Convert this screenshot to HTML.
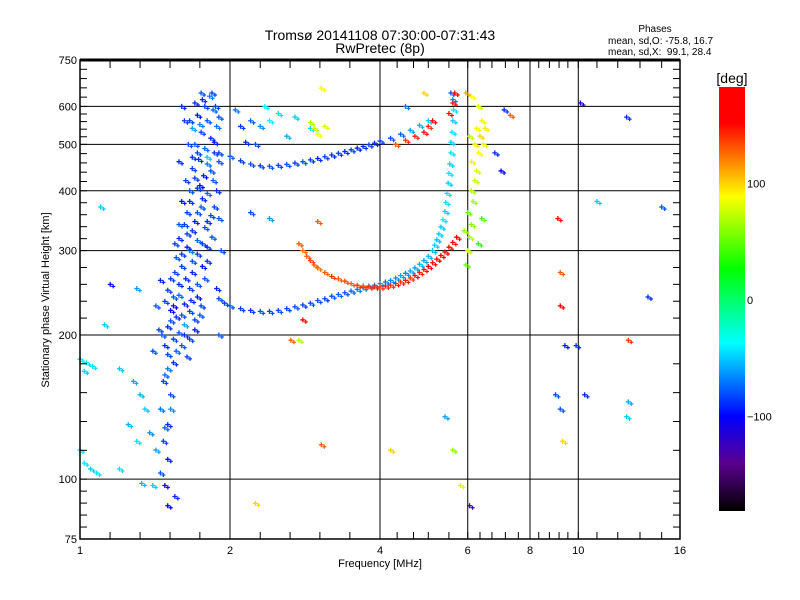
<!DOCTYPE html>
<html><head><meta charset="utf-8"><style>
body{margin:0;background:#fff;}
svg{display:block;font-family:"Liberation Sans",sans-serif;}
</style></head><body>
<svg id="chart" width="800" height="600" viewBox="0 0 800 600">
<rect width="800" height="600" fill="#fff"/>
<text x="380" y="40" font-size="14" text-anchor="middle">Tromsø 20141108 07:30:00-07:31:43</text>
<text x="380" y="53" font-size="14" text-anchor="middle">RwPretec (8p)</text>
<text x="655" y="32" font-size="10" text-anchor="middle">Phases</text>
<text x="608" y="44" font-size="10">mean, sd,O: -75.8, 16.7</text>
<text x="608" y="55" font-size="10" xml:space="preserve">mean, sd,X:  99.1, 28.4</text>
<g id="grid"></g>
<g id="points"></g>
<g id="axes"></g>
<text x="380" y="567" font-size="11" text-anchor="middle">Frequency [MHz]</text>
<text transform="translate(49,300) rotate(-90)" font-size="11" text-anchor="middle">Stationary phase Virtual Height [km]</text>
<defs><linearGradient id="cb" x1="0" y1="1" x2="0" y2="0"></linearGradient></defs>
<rect x="719" y="87" width="26" height="424" fill="url(#cb)"/>
<text x="732" y="83" font-size="14" text-anchor="middle">[deg]</text>
<g id="cbticks"></g>
</svg>
<script>
const xMajor=[1,2,4,6,8,10,16];
const xMinor=[1.149,1.32,1.516,1.74,2.3,2.64,3.03,3.48,4.33,4.67,5.0,5.5,6.35,6.71,7.14,7.58,8.33,8.75,9.15,9.53,10.9,12,13.3,14.7];
const xGrid=[2,4,6,8,10];
const yMajor=[75,100,200,300,400,500,600,750];
const yGrid=[100,200,300,400,500,600];
const cbLabels=[100,0,-100];
const colStops=[-181,-140,-100,-37,27,89,152,183];
const colHex=["#000000","#5a0090","#0000ff","#00ffff","#00ff00","#ffff00","#ff0000","#ff0000"];

const colPts=[[1.75,640,-80],[1.82,630,-70],[1.7,610,-90],[1.78,600,-85],[1.85,590,-75],[1.72,575,-95],[1.8,560,-80],[1.88,545,-70],[1.75,530,-85],[1.83,515,-90],[1.7,500,-80],[1.78,490,-75],[1.86,480,-85],[1.73,465,-90],[1.8,455,-70],[1.68,445,-85],[1.77,430,-95],[1.85,420,-80],[1.72,405,-85],[1.8,395,-75],[1.66,380,-90],[1.75,370,-80],[1.83,355,-85],[1.7,345,-95],[1.78,335,-80],[1.64,325,-85],[1.72,315,-75],[1.8,305,-90],[1.6,295,-85],[1.68,285,-80],[1.76,278,-95],[1.55,270,-85],[1.63,262,-90],[1.72,255,-80],[1.5,248,-85],[1.58,242,-75],[1.67,236,-90],[1.75,230,-85],[1.52,225,-95],[1.6,220,-80],[1.7,215,-85],[1.5,208,-90],[1.58,202,-80],[1.66,196,-85],[1.48,190,-90],[1.56,185,-75],[1.64,180,-85],[1.5,170,-70],[1.47,160,-85],[1.52,150,-80],[1.45,140,-70],[1.5,130,-90],[1.47,120,-85],[1.42,115,-60],[1.5,110,-95],[1.45,103,-80],[1.48,97,-110],[1.5,88,-100],[1.55,92,-90],[1.9,200,-80],[1.88,250,-90],[1.92,300,-85],[1.9,350,-80],[1.87,600,-85],[1.6,600,-90],[1.62,560,-85],[1.65,500,-80],[1.58,460,-90],[1.63,420,-85],[1.6,380,-95],[1.58,340,-80],[1.55,310,-85],[1.45,260,-90],[1.42,230,-80],[1.44,205,-85],[1.4,185,-80],[1.68,540,-60],[1.8,470,-50],[1.74,410,-100],[1.66,300,-70],[1.54,230,-110],[1.62,210,-60],
[1.84,640,-85],[1.76,620,-90],[1.9,570,-80],[1.66,560,-85],[1.74,550,-70],[1.86,505,-95],[1.72,480,-85],[1.9,460,-80],[1.68,470,-90],[1.83,440,-80],[1.7,425,-85],[1.88,400,-90],[1.66,400,-80],[1.76,385,-90],[1.86,370,-85],[1.64,360,-85],[1.72,360,-80],[1.8,345,-90],[1.62,340,-85],[1.68,330,-90],[1.84,320,-80],[1.58,318,-90],[1.76,310,-85],[1.64,305,-95],[1.72,295,-85],[1.56,290,-80],[1.8,285,-90],[1.6,278,-85],[1.68,270,-90],[1.52,262,-85],[1.78,262,-80],[1.58,255,-90],[1.66,250,-85],[1.54,240,-80],[1.62,232,-90],[1.72,240,-95],[1.48,235,-85],[1.56,218,-90],[1.66,224,-85],[1.74,220,-80],[1.52,214,-80],[1.62,200,-90],[1.54,196,-85],[1.7,205,-95],[1.46,200,-80],[1.6,190,-80],[1.5,182,-85],[1.54,175,-90],[1.48,165,-75],[1.52,140,-65],[1.48,128,-75]];
const leftPts=[[1.0,178,-45],[1.03,175,-45],[1.06,172,-45],[1.02,168,-50],[1.0,115,-45],[1.02,108,-45],[1.05,105,-50],[1.08,103,-45],[1.12,210,-50],[1.2,170,-50],[1.25,130,-55],[1.3,120,-45],[1.35,140,-50],[1.28,160,-60],[1.32,150,-55],[1.38,125,-65],[1.2,105,-45],[1.33,98,-55],[1.4,97,-50],[1.1,370,-50],[1.3,250,-60],[1.15,255,-95]];
const oLower=[[1.9,238,-85],[1.95,233,-85],[2.0,230,-80],[2.1,227,-85],[2.2,225,-85],[2.3,224,-80],[2.4,224,-85],[2.5,225,-80],[2.6,227,-85],[2.7,229,-80],[2.8,231,-85],[2.9,233,-80],[3.0,236,-80],[3.1,238,-85],[3.2,241,-80],[3.3,243,-75],[3.4,245,-80],[3.5,247,-75],[3.6,249,-70],[3.7,251,-75],[3.8,253,-70],[3.9,254,-70],[4.0,256,-65],[4.1,258,-70],[4.2,260,-65],[4.3,263,-65],[4.4,266,-60],[4.5,269,-65],[4.6,272,-60],[4.7,276,-60],[4.8,281,-55],[4.9,286,-60],[5.0,292,-55],[5.1,300,-55],[5.15,308,-50],[5.2,316,-55],[5.25,325,-50],[5.3,336,-50],[5.35,348,-45],[5.4,362,-50],[5.42,378,-45],[5.45,395,-45],[5.48,415,-50],[5.5,435,-45],[5.52,455,-50],[5.55,480,-45],[5.55,505,-50],[5.58,530,-45],[5.6,560,-50],[5.62,590,-45],[5.6,620,-70],[5.55,640,-80]];
const oUpper=[[1.9,480,-85],[2.0,472,-80],[2.1,462,-85],[2.2,455,-80],[2.3,451,-85],[2.4,450,-80],[2.5,452,-85],[2.6,454,-80],[2.7,457,-85],[2.8,460,-80],[2.9,464,-85],[3.0,467,-90],[3.1,471,-85],[3.2,475,-90],[3.3,479,-85],[3.4,483,-90],[3.5,487,-85],[3.6,491,-95],[3.7,495,-90],[3.8,499,-85],[3.9,503,-90],[4.0,508,-85],[4.2,515,-80],[4.4,525,-75],[4.6,535,-60],[4.8,548,-55],[5.0,560,-50],[2.05,590,-70],[2.2,560,-75],[2.3,545,-65],[2.4,560,-40],[2.5,580,-45],[2.7,570,-50],[2.6,520,-55],[2.25,500,-80],[2.9,540,-45],[2.1,545,-85],[2.35,600,-40],[2.15,505,-90]];
const xLower=[[2.75,310,130],[2.8,300,125],[2.85,292,130],[2.9,286,135],[2.95,280,130],[3.0,276,125],[3.1,270,130],[3.2,265,140],[3.3,262,130],[3.4,259,135],[3.5,256,130],[3.6,254,140],[3.7,253,135],[3.8,252,140],[3.9,252,145],[4.0,252,140],[4.1,253,145],[4.2,254,140],[4.3,256,145],[4.4,258,140],[4.5,260,145],[4.6,263,140],[4.7,266,150],[4.8,270,145],[4.9,274,150],[5.0,278,155],[5.1,283,150],[5.2,288,160],[5.3,293,165],[5.4,298,160],[5.5,305,165],[5.6,312,170],[5.7,320,160]];
const xUpper=[[4.3,500,130],[4.5,510,140],[4.7,520,145],[4.9,530,150],[5.0,545,140],[5.1,560,150],[5.6,610,160],[5.65,640,170],[5.5,580,150]];
const yellowCol=[[6.0,300,75],[6.05,320,70],[6.1,340,60],[6.0,360,55],[6.15,380,65],[6.1,400,70],[6.2,420,75],[6.25,440,80],[6.1,460,85],[6.3,480,90],[6.2,500,95],[6.35,520,100],[6.25,540,90],[6.4,560,85],[6.3,600,80],[6.1,630,90],[5.95,640,110],[6.45,500,85],[6.5,540,95],[6.05,520,75],[5.9,330,60],[6.4,350,45],[6.3,310,35],[5.95,280,50],[2.9,555,70],[2.95,540,75],[3.0,525,85],[3.1,545,80],[3.05,655,90]];
const sparse=[[7.1,590,-90],[7.3,575,130],[10.1,610,-110],[12.5,570,-90],[9.1,350,160],[9.2,270,130],[9.2,230,160],[9.4,190,-95],[9.9,190,-90],[9,150,-80],[9.2,140,-80],[9.3,120,100],[10.9,380,-50],[13.8,240,-90],[14.7,370,-80],[12.6,195,140],[10.3,150,-90],[12.6,145,-60],[12.5,135,-50],[5.4,135,-60],[5.6,115,60],[5.8,97,80],[6.05,88,-120],[3.05,118,130],[2.25,89,100],[2.65,195,130],[2.75,195,70],[2.8,215,150],[7.0,440,-100],[6.8,480,-90],[2.4,350,-60],[2.2,360,-80],[3.0,345,130],[4.2,115,100],[4.5,600,-70],[4.9,640,100]];

const NS="http://www.w3.org/2000/svg";
const X0=80,X1=680,Y0=539,Y1=60;
function xs(f){return X0+(X1-X0)*Math.log2(f)/4;}
function ys(h){return Y0-(Y0-Y1)*Math.log10(h/75)/1;}
function cbY(v){return 300-v*1.165;}
function hex2rgb(h){return [1,3,5].map(i=>parseInt(h.substr(i,2),16));}
function color(v){
  if(v<=colStops[0])return colHex[0];
  for(let i=1;i<colStops.length;i++){
    if(v<=colStops[i]){
      const t=(v-colStops[i-1])/(colStops[i]-colStops[i-1]);
      const a=hex2rgb(colHex[i-1]),b=hex2rgb(colHex[i]);
      return "rgb("+a.map((c,k)=>Math.round(c+(b[k]-c)*t)).join(",")+")";
    }
  }
  return colHex[colHex.length-1];
}
function mk(tag,attrs,parent){const e=document.createElementNS(NS,tag);for(const k in attrs)e.setAttribute(k,attrs[k]);parent.appendChild(e);return e;}
const grid=document.getElementById('grid'),axes=document.getElementById('axes'),pts=document.getElementById('points');
xGrid.forEach(f=>{const l=mk('line',{x1:xs(f),x2:xs(f),y1:Y1,y2:Y0,stroke:'#000','stroke-width':1},grid);

});
yGrid.forEach(h=>{const l=mk('line',{x1:X0,x2:X1,y1:ys(h),y2:ys(h),stroke:'#000','stroke-width':1},grid);

});
const groups=[colPts,leftPts,oLower,oUpper,xLower,xUpper,yellowCol,sparse];
groups.forEach(g=>g.forEach(p=>{
  const x=xs(p[0]),y=ys(p[1]),c=color(p[2]);
  const e=mk('path',{d:`M${x-2.5} ${y}h5M${x} ${y-2.5}v5`,stroke:c,'stroke-width':1.3},pts);
  
  
  const e2=mk('path',{d:`M${x+1} ${y+2}h4M${x+3} ${y}v4`,stroke:c,'stroke-width':1.2},pts);
  
  
}));
const frame=mk('rect',{x:X0,y:Y1,width:X1-X0,height:Y0-Y1,fill:'none',stroke:'#000','stroke-width':1.5},axes);


mk('line',{x1:X0,x2:X1,y1:Y1,y2:Y1,stroke:'#000','stroke-width':3},axes);
xMajor.concat(xMinor).forEach(f=>{const x=xs(f);
  mk('line',{x1:x,x2:x,y1:Y0,y2:Y0-7,stroke:'#000'},axes);
  mk('line',{x1:x,x2:x,y1:Y1,y2:Y1+8,stroke:'#000'},axes);});
xMajor.forEach(f=>{const t=mk('text',{x:xs(f),y:554,'font-size':11,'text-anchor':'middle'},axes);t.textContent=f;

});
for(let i=0;i<yMajor.length-1;i++){
  const a=Math.log10(yMajor[i]),b=Math.log10(yMajor[i+1]);
  for(let k=1;k<5;k++){const y=ys(Math.pow(10,a+(b-a)*k/5));
    mk('line',{x1:X0,x2:X0+7,y1:y,y2:y,stroke:'#000'},axes);
    mk('line',{x1:X1,x2:X1-7,y1:y,y2:y,stroke:'#000'},axes);}
}
yMajor.forEach(h=>{const y=ys(h);
  mk('line',{x1:X0,x2:X0+7,y1:y,y2:y,stroke:'#000'},axes);
  const t=mk('text',{x:77,y:y+4,'font-size':11,'text-anchor':'end'},axes);t.textContent=h;
  
  });
const grad=document.getElementById('cb');
colStops.forEach((v,i)=>{mk('stop',{offset:((v+181)/364).toFixed(3),'stop-color':colHex[i]},grad);});
const cbt=document.getElementById('cbticks');
cbLabels.forEach(v=>{const t=mk('text',{x:747,y:cbY(v)+4,'font-size':11},cbt);t.textContent=v<0?'\u2212'+(-v):v;

});
</script>
</body></html>
